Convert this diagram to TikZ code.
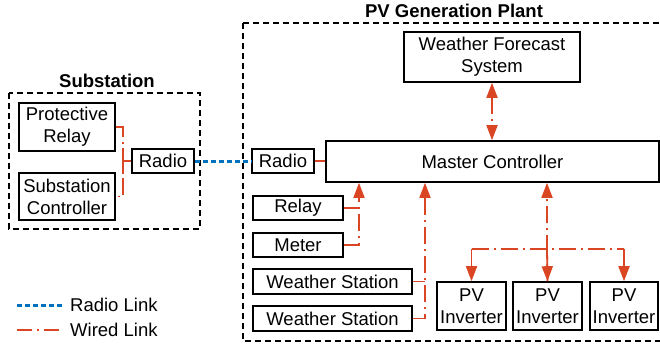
\documentclass[tikz,border=0pt]{standalone}
\usepackage{fontspec}
\setmainfont{Liberation Sans}
\usetikzlibrary{arrows.meta}
\definecolor{wiredred}{RGB}{218,70,36}
\definecolor{radioblue}{RGB}{0,114,189}
\tikzset{
  x=1bp, y=-1bp,
  every node/.style={font=\fontsize{18.5bp}{22bp}\selectfont, inner sep=0pt, align=center},
  box/.style={draw=black, line width=1.6bp, fill=white},
  region/.style={draw=black, line width=1.6bp, dash pattern=on 6bp off 4bp},
  title/.style={font=\fontsize{18.5bp}{22bp}\selectfont\bfseries},
  wired/.style={draw=wiredred, line width=1.8bp, dash pattern=on 17bp off 5bp on 2bp off 5bp},
  wiredsolid/.style={draw=wiredred, line width=1.8bp},
  radiolink/.style={draw=radioblue, line width=3bp, dash pattern=on 5bp off 3bp},
  tip/.style={-{Triangle[length=15bp,width=11bp]}},
  tips/.style={{Triangle[length=15bp,width=11bp]}-{Triangle[length=15bp,width=11bp]}},
}
\begin{document}
\begin{tikzpicture}
\useasboundingbox (0,0) rectangle (660,349);
\clip (0,0) rectangle (660,349);
% regions
\draw[region] (9,93) rectangle (200,229);
\draw[region] (243,23) rectangle (668,341);
\node[title] (subt) at (107,81) {Substation};
\node[title] (pvt) at (454,11) {PV Generation Plant};
% substation nodes
\node[box, minimum width=96bp, minimum height=48bp] (pr) at (67,127) {Protective\\Relay};
\node[box, minimum width=96bp, minimum height=47bp] (sc) at (67,196.5) {Substation\\Controller};
\node[box, minimum width=62bp, minimum height=24bp] (rs) at (163,161) {Radio};
% plant nodes
\node[box, minimum width=62bp, minimum height=24bp] (rp) at (283,161) {Radio};
\node[box, minimum width=333bp, minimum height=41bp] (mc) at (492.5,161.5) {Master Controller};
\node[box, minimum width=176bp, minimum height=50bp] (wfs) at (492,57) {Weather Forecast\\System};
\node[box, minimum width=90bp, minimum height=24bp] (relay) at (298,208) {Relay};
\node[box, minimum width=90bp, minimum height=24bp] (meter) at (298,245) {Meter};
\node[box, minimum width=159bp, minimum height=25bp] (ws1) at (332.5,281.5) {Weather Station};
\node[box, minimum width=159bp, minimum height=25bp] (ws2) at (332.5,318.5) {Weather Station};
\node[box, minimum width=69bp, minimum height=48bp] (pv1) at (471.5,306) {PV\\Inverter};
\node[box, minimum width=69bp, minimum height=48bp] (pv2) at (547.5,306) {PV\\Inverter};
\node[box, minimum width=68bp, minimum height=48bp] (pv3) at (624,306) {PV\\Inverter};
% substation wiring
\coordinate (j1) at (123,0);
\draw[wired] (pr.east) -- (j1 |- pr.east) -- (j1 |- sc.east) -- (sc.east);
\draw[wiredsolid] (rs.west) -- (j1 |- rs.west);
\draw[wiredsolid] ([yshift=-13bp]j1 |- rs.west) -- ([yshift=13bp]j1 |- rs.west);
% radio link
\draw[radiolink] (rs.east) -- (rp.west);
% plant wiring
\draw[wiredsolid] (rp.east) -- (mc.west |- rp.east);
\draw[wired, tips] (wfs.south) -- (mc.north -| wfs.south);
\coordinate (c1) at (359,0);
\draw[wired, tip] (meter.east) -| (c1 |- mc.south);
\draw[wiredsolid] (relay.east) -- (c1 |- relay.east);
\coordinate (c2) at (425,0);
\draw[wired, tip] (ws2.east) -| (c2 |- mc.south);
\draw[wiredsolid] (ws1.east) -- (c2 |- ws1.east);
\coordinate (bus) at (547,249);
\draw[wired, tip] (pv2.north) -- (bus) -- (bus |- mc.south);
\draw[wired] (pv1.north |- bus) -- (pv3.north |- bus);
\draw[wiredsolid, tip] (pv1.north |- bus) -- (pv1.north);
\draw[wiredsolid, tip] (bus) -- (pv2.north);
\draw[wiredsolid, tip] (pv3.north |- bus) -- (pv3.north);
% legend
\coordinate (la1) at (17,305);
\coordinate (lb1) at (62,305);
\coordinate (la2) at (17,330);
\coordinate (lb2) at (62,330);
\draw[radiolink] (la1) -- (lb1);
\draw[wired, dash pattern=on 15bp off 5bp on 2bp off 5bp] (la2) -- (lb2);
\node[anchor=west] (lt1) at (70,305) {Radio Link};
\node[anchor=west] (lt2) at (70,330) {Wired Link};
\end{tikzpicture}
\end{document}
